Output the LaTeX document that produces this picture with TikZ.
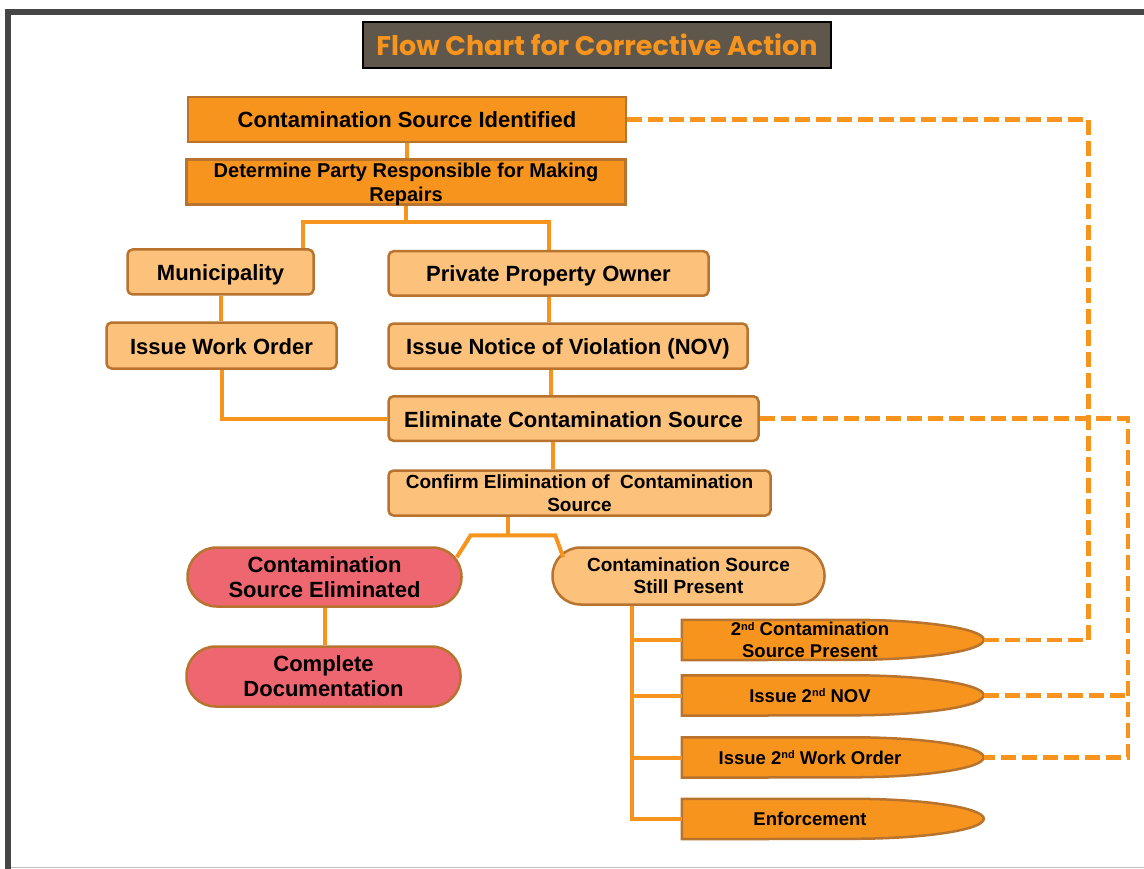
\documentclass[tikz,border=0pt]{standalone}
\usepackage{fontspec}
\setmainfont{Liberation Sans}
\newfontfamily\titlefont{Poppins}
\usetikzlibrary{backgrounds}
\definecolor{darkorange}{HTML}{F7941D}
\definecolor{lightorange}{HTML}{FCC17A}
\definecolor{rosered}{HTML}{EE6770}
\definecolor{edgebrown}{HTML}{B8732F}
\definecolor{titlebg}{HTML}{5F574B}
\definecolor{framegray}{HTML}{464646}
\newcommand{\ordnd}{\raisebox{0.55ex}{\fontsize{11}{11}\selectfont nd}}

\begin{document}
\begin{tikzpicture}[x=1pt,y=-1pt]
	\tikzset{box/.style={rectangle, draw=edgebrown, line width=2.5pt, align=center, inner sep=0pt, font=\bfseries\fontsize{22}{25}\selectfont}}
	\tikzset{oneline/.style={text height=17pt, text depth=0pt}}
	\tikzset{darkbox/.style={box, fill=darkorange}}
	\tikzset{lightbox/.style={box, fill=lightorange, rounded corners=5pt}}
	\tikzset{pinkbox/.style={box, fill=rosered, rounded corners=29pt}}
	\tikzset{endbox/.style={rectangle, inner sep=0pt, align=center, minimum width=256pt, minimum height=40pt, font=\bfseries\fontsize{18.5}{22}\selectfont}}
	\tikzset{bulletshape/.style={draw=edgebrown, fill=darkorange, line width=2.5pt}}
	\tikzset{link/.style={draw=darkorange, line width=4pt}}
	\tikzset{dashlink/.style={draw=darkorange, line width=4.5pt, dash pattern=on 15pt off 6pt}}
	\useasboundingbox (0,0) rectangle (1144,869);
	% frame of the page
	\draw[framegray, line width=6pt] (8,869) -- (8,12) -- (1144,12);
	\draw[black!25, line width=1pt] (11,867.5) -- (1144,867.5);
	
	\node[draw=black, line width=2pt, fill=titlebg, minimum width=468pt, minimum height=46pt, inner sep=0pt, text=darkorange, font=\titlefont\bfseries\fontsize{27}{30}\selectfont] (title) at (597,45) {Flow Chart for Corrective Action};
	
	\node[darkbox, oneline, minimum width=438pt, minimum height=45pt] (A) at (407,119.5) {Contamination Source Identified};
	\node[darkbox, text depth=0pt, minimum width=439pt, minimum height=45pt, font=\bfseries\fontsize{20}{24}\selectfont] (B) at (406,182) {Determine Party Responsible for Making\\Repairs};
	\node[lightbox, oneline, minimum width=186pt, minimum height=45pt] (Muni) at (220.5,272) {Municipality};
	\node[lightbox, oneline, minimum width=320pt, minimum height=44.5pt] (PPO) at (548.5,273.5) {Private Property Owner};
	\node[lightbox, oneline, minimum width=230pt, minimum height=46pt] (IWO) at (221.5,345.5) {Issue Work Order};
	\node[lightbox, oneline, minimum width=359pt, minimum height=45pt] (NOV) at (568,346) {Issue Notice of Violation (NOV)};
	\node[lightbox, oneline, minimum width=370pt, minimum height=44.5pt] (Elim) at (573.5,418.5) {Eliminate Contamination Source};
	\node[lightbox, minimum width=382pt, minimum height=45pt, font=\bfseries\fontsize{19}{23}\selectfont] (Conf) at (579.5,493) {Confirm Elimination of~ Contamination\\Source};
	\node[pinkbox, minimum width=274pt, minimum height=59pt] (CSE) at (324.5,577) {Contamination\\Source Eliminated};
	\node[pinkbox, minimum width=274pt, minimum height=60pt] (CD) at (323.5,676.5) {Complete\\Documentation};
	\node[pinkbox, fill=lightorange, minimum width=272pt, minimum height=57pt, rounded corners=28pt, font=\bfseries\fontsize{19}{22}\selectfont] (CSP) at (688.5,576) {Contamination Source\\Still Present};
	
	\node[endbox] (E1) at (810,640) {2\ordnd{} Contamination\\Source Present};
	\node[endbox] (E2) at (810,695.5) {Issue 2\ordnd{} NOV};
	\node[endbox] (E3) at (810,757.5) {Issue 2\ordnd{} Work Order};
	\node[endbox] (E4) at (810,819) {Enforcement};
	\begin{pgfonlayer}{background}
		\foreach \n in {E1,E2,E3,E4}
			\draw[bulletshape] (\n.north west) -- ++(170,0) arc[start angle=90, end angle=-90, x radius=132pt, y radius=20pt] -- (\n.south west) -- cycle;
	\end{pgfonlayer}
	\foreach \n in {E1,E2,E3,E4}
		\coordinate (\n tip) at ([xshift=46pt]\n.east);
	
	% solid connectors
	\draw[link] (A.south) -- (A.south |- B.north);
	\draw[link] (B.south) -- ++(0,16) coordinate (split1);
	\draw[link] ([xshift=82pt]Muni.north) |- (split1) -| (PPO.north);
	\draw[link] (Muni.south) -- (Muni.south |- IWO.north);
	\draw[link] (PPO.south) -- (PPO.south |- NOV.north);
	\draw[link] ([xshift=-17pt]NOV.south) -- ([xshift=-17pt]NOV.south |- Elim.north);
	\draw[link] (IWO.south) |- (Elim.west);
	\draw[link] ([xshift=-20.5pt]Elim.south) -- ([xshift=-20.5pt]Elim.south |- Conf.north);
	\draw[link] ([xshift=-71.5pt]Conf.south) -- ++(0,18) coordinate (split2);
	\draw[link] ([shift={(-6,11)}]CSE.north east) -- ++(14,-22) -- ([shift={(4,-11)}]CSP.north west) -- ([shift={(12,11)}]CSP.north west);
	\draw[link] (CSE.south) -- (CSE.south |- CD.north);
	\coordinate (trunk) at ([xshift=-56.5pt]CSP.south);
	\draw[link] (trunk) |- (E4.west);
	\foreach \n in {E1,E2,E3}
		\draw[link] (trunk |- \n.west) -- (\n.west);
	
	% dashed returns
	\draw[dashlink] (A.east) -- ++(461,0) |- (E1tip);
	\draw[dashlink] (Elim.east) -- ++(368,0) |- (E3tip);
	\draw[dashlink] (E2tip) -- ++(144,0);
\end{tikzpicture}
\end{document}
